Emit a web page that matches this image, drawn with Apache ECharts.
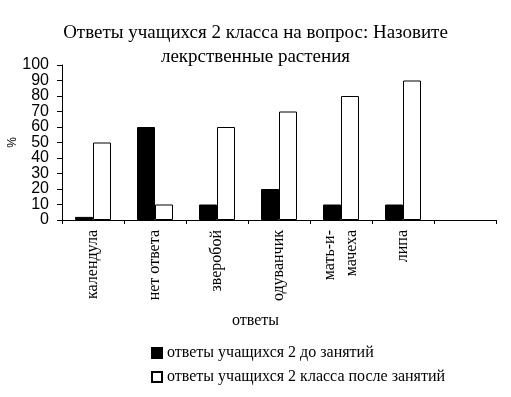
<!DOCTYPE html>
<html>
<head>
<meta charset="utf-8">
<script src="https://cdn.jsdelivr.net/npm/echarts@6/dist/echarts.min.js"></script>
<style>
    html, body { margin: 0; padding: 0; background: #fff; }
    #main { width: 511px; height: 397px; }
</style>
</head>
<body>
<div id="main"></div>
<script>
// категории (последняя пустая, как в исходной диаграмме)
var categories = ['календула', 'нет ответа', 'зверобой', 'одуванчик', 'мать-и-\nмачеха', 'липа', ''];
var before = [2, 60, 10, 20, 10, 10, null];
var after = [50, 10, 60, 70, 80, 90, null];
var seriesNames = ['ответы учащихся 2 до занятий', 'ответы учащихся 2 класса после занятий'];

var serif = '"Liberation Serif", "Times New Roman", serif';
var sans = '"Liberation Sans", Arial, sans-serif';

var yLabel = {
    margin: 13,
    fontFamily: sans,
    fontSize: 16,
    color: '#000'
};

var main = echarts.init(document.getElementById('main'));
var option = {
    animation: false,
    title: [
        {
            text: 'Ответы учащихся 2 класса на вопрос: Назовите\nлекрственные растения',
            left: 'center',
            top: 16,
            textStyle: {
                fontFamily: serif,
                fontSize: 19,
                fontWeight: 'normal',
                color: '#000',
                lineHeight: 24
            }
        },
        {
            text: 'ответы',
            left: 'center',
            top: 308,
            textStyle: {
                fontFamily: serif,
                fontSize: 16,
                fontWeight: 'normal',
                color: '#000'
            }
        }
    ],
    legend: {
        orient: 'vertical',
        left: 146,
        top: 340,
        itemWidth: 10,
        itemHeight: 10,
        itemGap: 8,
        icon: 'rect',
        textStyle: {
            fontFamily: serif,
            fontSize: 16,
            color: '#000'
        },
        data: seriesNames
    },
    grid: {
        left: 62,
        right: 15,
        top: 65,
        bottom: 177,
        outerBoundsMode: 'none'
    },
    xAxis: {
        type: 'category',
        data: categories,
        axisLine: { lineStyle: { color: '#000', width: 1 } },
        axisTick: { show: true, length: 4, lineStyle: { color: '#000' } },
        axisLabel: {
            rotate: 90,
            margin: 10,
            interval: 0,
            fontFamily: serif,
            fontSize: 16,
            lineHeight: 22,
            color: '#000'
        }
    },
    yAxis: [
        {
            // внутренние подписи 10..90 и засечки
            type: 'value',
            min: 0,
            max: 100,
            interval: 10,
            name: '%',
            nameLocation: 'middle',
            nameRotate: 90,
            nameGap: 43,
            nameMoveOverlap: false,
            nameTextStyle: {
                fontFamily: sans,
                fontSize: 12,
                color: '#000'
            },
            axisLine: { show: true, lineStyle: { color: '#000', width: 1 } },
            axisTick: { show: true, length: 5, lineStyle: { color: '#000', width: 1 } },
            splitLine: { show: false },
            axisLabel: Object.assign({ showMinLabel: false, showMaxLabel: false }, yLabel)
        },
        {
            // только 0 и 100 (иначе ECharts прячет соседние подписи)
            type: 'value',
            position: 'left',
            min: 0,
            max: 100,
            interval: 100,
            axisLine: { show: false },
            axisTick: { show: true, length: 5, lineStyle: { color: '#000', width: 1 } },
            splitLine: { show: false },
            axisLabel: yLabel
        }
    ],
    series: [
        {
            name: seriesNames[0],
            type: 'bar',
            barWidth: 18,
            barGap: '0%',
            itemStyle: { color: '#000', borderColor: '#000', borderWidth: 1 },
            data: before
        },
        {
            name: seriesNames[1],
            type: 'bar',
            barWidth: 18,
            barGap: '0%',
            itemStyle: { color: '#fff', borderColor: '#000', borderWidth: 1 },
            data: after
        }
    ]
};
main.setOption(option);
</script>
</body>
</html>
